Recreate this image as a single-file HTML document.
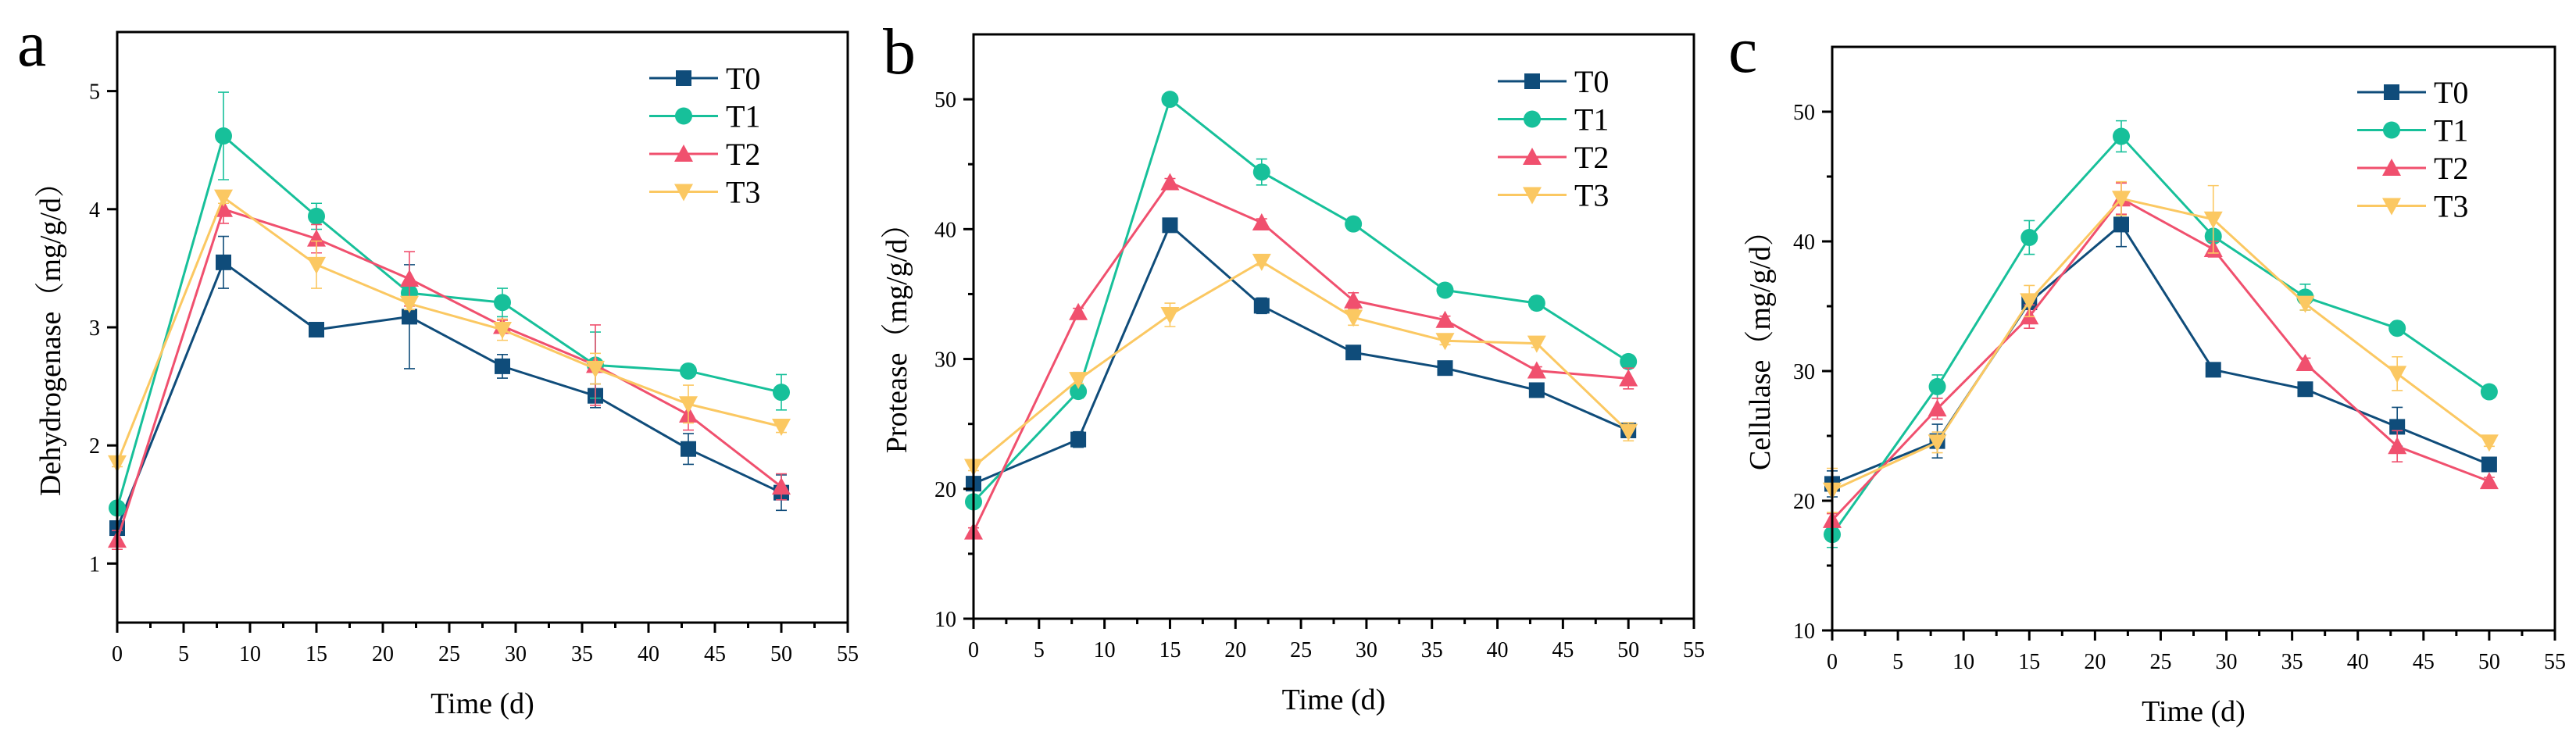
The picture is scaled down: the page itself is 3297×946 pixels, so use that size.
<!DOCTYPE html>
<html><head><meta charset="utf-8">
<style>
html,body{margin:0;padding:0;background:#fff;}
svg{display:block;font-family:"Liberation Serif","Noto Serif CJK SC",serif;}
</style></head>
<body>
<svg id="fig" width="3297" height="946" viewBox="0 0 3297 946" xmlns="http://www.w3.org/2000/svg"></svg>
<script>
const days = [0, 8, 15, 22, 29, 36, 43, 50];
const seriesNames = ["T0", "T1", "T2", "T3"];
const xTicks = [0, 5, 10, 15, 20, 25, 30, 35, 40, 45, 50, 55];

const dehydT0 = [1.3, 3.55, 2.98, 3.09, 2.67, 2.42, 1.97, 1.6];
const dehydT1 = [1.47, 4.62, 3.94, 3.29, 3.21, 2.68, 2.63, 2.45];
const dehydT2 = [1.2, 4.0, 3.75, 3.41, 3.01, 2.68, 2.26, 1.65];
const dehydT3 = [1.85, 4.1, 3.53, 3.2, 2.98, 2.65, 2.35, 2.16];
const dehydErrT0 = [0.05, 0.22, 0.05, 0.44, 0.1, 0.1, 0.13, 0.15];
const dehydErrT1 = [0.05, 0.37, 0.11, 0.05, 0.12, 0.28, 0.03, 0.15];
const dehydErrT2 = [0.08, 0.12, 0.12, 0.23, 0.05, 0.34, 0.13, 0.11];
const dehydErrT3 = [0.03, 0.05, 0.2, 0.05, 0.09, 0.13, 0.16, 0.05];
const dehydTicks = [1, 2, 3, 4, 5];

const protT0 = [20.4, 23.8, 40.3, 34.1, 30.5, 29.3, 27.6, 24.5];
const protT1 = [19.0, 27.5, 50.0, 44.4, 40.4, 35.3, 34.3, 29.8];
const protT2 = [16.7, 33.6, 43.6, 40.5, 34.5, 33.0, 29.1, 28.5];
const protT3 = [21.7, 28.4, 33.4, 37.5, 33.2, 31.4, 31.2, 24.4];
const protErrT0 = [0.3, 0.6, 0.3, 0.6, 0.3, 0.3, 0.3, 0.4];
const protErrT1 = [0.3, 0.5, 0.3, 1.0, 0.3, 0.3, 0.5, 0.4];
const protErrT2 = [0.3, 0.3, 0.3, 0.3, 0.6, 0.3, 0.3, 0.8];
const protErrT3 = [0.3, 0.3, 0.9, 0.3, 0.6, 0.3, 0.3, 0.7];
const protTicks = [10, 20, 30, 40, 50];

const cellT0 = [21.3, 24.6, 35.3, 41.3, 30.1, 28.6, 25.7, 22.8];
const cellT1 = [17.4, 28.8, 40.3, 48.1, 40.4, 35.7, 33.3, 28.4];
const cellT2 = [18.5, 27.1, 34.2, 43.3, 39.4, 30.6, 24.2, 21.5];
const cellT3 = [20.8, 24.5, 35.4, 43.3, 41.7, 35.2, 29.8, 24.5];
const cellErrT0 = [1.0, 1.3, 0.5, 1.7, 0.3, 0.3, 1.5, 0.3];
const cellErrT1 = [1.0, 0.9, 1.3, 1.2, 0.4, 1.0, 0.3, 0.3];
const cellErrT2 = [0.5, 0.8, 0.9, 1.2, 0.6, 0.4, 1.2, 0.3];
const cellErrT3 = [1.7, 0.8, 1.2, 1.3, 2.6, 0.5, 1.3, 0.3];
const cellTicks = [10, 20, 30, 40, 50];

const colors = ["#0f4c7a", "#17c09a", "#f0506e", "#fbc862"];
const markers = ["square", "circle", "up", "down"];
const NS = "http://www.w3.org/2000/svg";
const svg = document.getElementById("fig");

function mk(tag, attrs, parent) {
  const e = document.createElementNS(NS, tag);
  for (const k in attrs) e.setAttribute(k, attrs[k]);
  (parent || svg).appendChild(e);
  return e;
}
function marker(g, type, cx, cy, color) {
  const s = 10;
  let e;
  if (type === "square") e = mk("rect", {x: cx - s, y: cy - s, width: 2 * s, height: 2 * s, fill: color}, g);
  else if (type === "circle") e = mk("circle", {cx: cx, cy: cy, r: s + 1, fill: color}, g);
  else if (type === "up") e = mk("polygon", {points: `${cx},${cy - s - 2} ${cx - s - 2},${cy + s} ${cx + s + 2},${cy + s}`, fill: color}, g);
  else e = mk("polygon", {points: `${cx},${cy + s + 2} ${cx - s - 2},${cy - s} ${cx + s + 2},${cy - s}`, fill: color}, g);
  return e;
}

function panel(cfg) {
  const g = mk("g", {});
  
  
  const L = cfg.left, R = cfg.right, T = cfg.top, B = cfg.bottom;
  const xs = v => L + (v - 0) / 55 * (R - L);
  const ys = v => B - (v - cfg.ymin) / (cfg.ymax - cfg.ymin) * (B - T);

  // panel letter
  const letter = mk("text", {x: cfg.lx, y: cfg.ly, "font-size": 84, fill: "#000"}, g);
  letter.textContent = cfg.letter;
  
  

  // series
  cfg.series.forEach((vals, si) => {
    const sg = mk("g", {}, g);
    
    
    const errs = cfg.errs[si];
    vals.forEach((v, i) => {
      const x = xs(days[i]);
      const eb = mk("path", {d: `M${x},${ys(v - errs[i])}V${ys(v + errs[i])}M${x - 7},${ys(v - errs[i])}h14M${x - 7},${ys(v + errs[i])}h14`, stroke: colors[si], "stroke-width": 1.6, fill: "none"}, sg);
      
      
    });
    const pts = vals.map((v, i) => xs(days[i]) + "," + ys(v)).join(" ");
    const ln = mk("polyline", {points: pts, fill: "none", stroke: colors[si], "stroke-width": 3}, sg);
    
    
    vals.forEach((v, i) => {
      const m = marker(sg, markers[si], xs(days[i]), ys(v), colors[si]);
      
      
    });
  });

  // frame
  const fr = mk("rect", {x: L, y: T, width: R - L, height: B - T, fill: "none", stroke: "#000", "stroke-width": 3}, g);
  
  

  // x ticks
  const xg = mk("g", {}, g);
  
  
  xTicks.forEach(t => {
    const x = xs(t);
    mk("line", {x1: x, x2: x, y1: B, y2: B + 13, stroke: "#000", "stroke-width": 3}, xg);
    if (t < 55) mk("line", {x1: xs(t + 2.5), x2: xs(t + 2.5), y1: B, y2: B + 7, stroke: "#000", "stroke-width": 3}, xg);
    const tx = mk("text", {x: x, y: B + 49, "font-size": 28, "text-anchor": "middle"}, xg);
    tx.textContent = t;
    
    
  });
  const xt = mk("text", {x: (L + R) / 2, y: B + 116, "font-size": 38, "text-anchor": "middle"}, g);
  xt.textContent = "Time (d)";
  
  

  // y ticks
  const yg = mk("g", {}, g);
  
  
  cfg.yticks.forEach(t => {
    const y = ys(t);
    mk("line", {x1: L - 13, x2: L, y1: y, y2: y, stroke: "#000", "stroke-width": 3}, yg);
    const tx = mk("text", {x: L - 22, y: y + 10, "font-size": 28, "text-anchor": "end"}, yg);
    tx.textContent = t;
    
    
  });
  const st = cfg.yticks[1] - cfg.yticks[0];
  for (let m = cfg.ymin + st / 2; m < cfg.ymax; m += st) {
    if (cfg.yticks.some(t => Math.abs(t - m) < 1e-6)) continue;
    mk("line", {x1: L - 7, x2: L, y1: ys(m), y2: ys(m), stroke: "#000", "stroke-width": 3}, yg);
  }
  const cy = (T + B) / 2 + 6;
  const yt = mk("text", {x: 0, y: 0, "font-size": 38, "text-anchor": "middle", transform: `translate(${cfg.ytx},${cy}) rotate(-90)`}, g);
  yt.textContent = cfg.ytitle + "（mg/g/d）";
  
  

  // legend
  const lg = mk("g", {}, g);
  
  
  seriesNames.forEach((n, i) => {
    const y = cfg.legY + i * 48.5;
    const eg = mk("g", {}, lg);
    
    
    mk("line", {x1: cfg.legX, x2: cfg.legX + 88, y1: y, y2: y, stroke: colors[i], "stroke-width": 3}, eg);
    marker(eg, markers[i], cfg.legX + 44, y, colors[i]);
    const tx = mk("text", {x: cfg.legX + 98, y: y + 14, "font-size": 40}, eg);
    tx.textContent = n;
  });
}

panel({name: "panel-a-dehydrogenase", letter: "a", lx: 22, ly: 84, left: 150, right: 1085, top: 41, bottom: 797,
  ymin: 0.5, ymax: 5.5, yticks: dehydTicks, ytitle: "Dehydrogenase", ytx: 77,
  series: [dehydT0, dehydT1, dehydT2, dehydT3], errs: [dehydErrT0, dehydErrT1, dehydErrT2, dehydErrT3],
  legX: 831, legY: 100});
panel({name: "panel-b-protease", letter: "b", lx: 1130, ly: 94, left: 1246, right: 2168, top: 44, bottom: 792,
  ymin: 10, ymax: 55, yticks: protTicks, ytitle: "Protease", ytx: 1160,
  series: [protT0, protT1, protT2, protT3], errs: [protErrT0, protErrT1, protErrT2, protErrT3],
  legX: 1917, legY: 104});
panel({name: "panel-c-cellulase", letter: "c", lx: 2212, ly: 92, left: 2345, right: 3270, top: 60, bottom: 807,
  ymin: 10, ymax: 55, yticks: cellTicks, ytitle: "Cellulase", ytx: 2265,
  series: [cellT0, cellT1, cellT2, cellT3], errs: [cellErrT0, cellErrT1, cellErrT2, cellErrT3],
  legX: 3017, legY: 118});
</script>
</body></html>
